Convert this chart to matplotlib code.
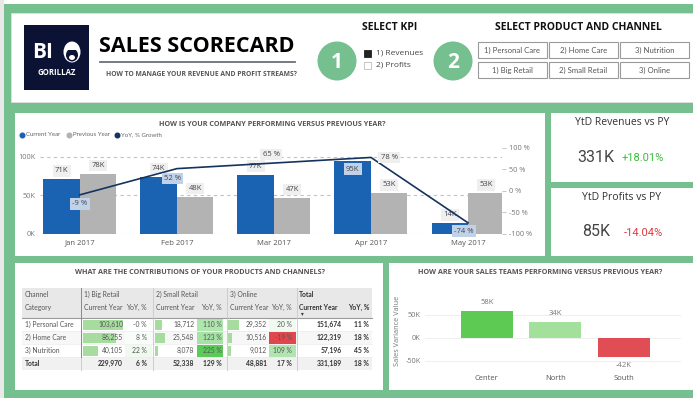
import matplotlib
matplotlib.use('Agg')
import matplotlib.pyplot as plt
from matplotlib.patches import Rectangle, Circle, Ellipse
import numpy as np

plt.rcParams['font.family'] = ['Open Sans', 'DejaVu Sans']

W, H = 693, 398

# monthly revenues (K) and growth (%)
months = ['Jan 2017', 'Feb 2017', 'Mar 2017', 'Apr 2017', 'May 2017']
cur_year = [71, 74, 77, 95, 14]
prev_year = [78, 48, 47, 53, 53]
yoy_growth = [-9, 52, 65, 78, -74]

# cards
kpi_titles = ['YtD Revenues vs PY', 'YtD Profits vs PY']
kpi_values = ['331K', '85K']
kpi_changes = [18.01, -14.04]

# products x channels matrix
categories = ['1) Personal Care', '2) Home Care', '3) Nutrition']
channels = ['1) Big Retail', '2) Small Retail', '3) Online']
cy_values = [[103610, 18712, 29352], [86255, 25548, 10516], [40105, 8078, 9012]]
yoy_values = [[-0.0, 110, 20], [8, 123, -19], [22, 225, 109]]
channel_totals = [229970, 52338, 48881]
channel_total_yoy = [6, 129, 17]
category_totals = [151674, 122319, 57196]
category_total_yoy = [11, 18, 45]
grand_total = 331189
grand_total_yoy = 18

# sales teams variance (K)
teams = ['Center', 'North', 'South']
team_variance = [58, 34, -42]

GREEN = '#76bf8f'
BLUE = '#1a62b2'
GREY_BAR = '#b3b3b3'
NAVY = '#16335f'
SMALL = ['Lato', 'DejaVu Sans']

fig = plt.figure(figsize=(W / 100, H / 100), dpi=100)
fig.patch.set_facecolor(GREEN)

bg = fig.add_axes([0, 0, 1, 1])
bg.set_xlim(0, W)
bg.set_ylim(H, 0)
bg.axis('off')


def px_axes(x, y, w, h):
    a = fig.add_axes([x / W, 1 - (y + h) / H, w / W, h / H])
    a.patch.set_alpha(0)
    return a


def rect(x, y, w, h, **kw):
    bg.add_patch(Rectangle((x, y), w, h, **kw))


def txt(x, y, s, **kw):
    kw.setdefault('va', 'center')
    kw.setdefault('color', '#444444')
    bg.text(x, y, s, **kw)


# frame pieces
rect(0, 0, W, 4, fc='white', ec='none')
rect(0, 0, 3.5, H, fc='#e9e9e9', ec='none')

# panels
rect(11, 13, W - 11, 89, fc='white', ec='#e0e0e0', lw=0.6)
rect(15, 113, 530, 143, fc='white', ec='none')
rect(551, 113, W - 551, 69, fc='white', ec='none')
rect(551, 188, W - 551, 68, fc='white', ec='none')
rect(15, 263, 368, 127, fc='white', ec='none')
rect(389, 263, W - 389, 127, fc='white', ec='none')

# ---- header ----
rect(24, 25, 65, 65, fc='#0b1233', ec='none')
txt(43, 53, 'BI', color='white', fontsize=15, fontweight='bold', ha='center')
bg.add_patch(Ellipse((72, 52), 17, 21, fc='white', ec='none'))
bg.add_patch(Ellipse((72, 55), 12, 13, fc='#0b1233', ec='none'))
rect(66.5, 47, 11, 2.5, fc='white', ec='none')
bg.add_patch(Ellipse((72, 57.5), 6, 5, fc='white', ec='none'))
txt(56.5, 72.5, 'GORILLAZ', color='white', fontsize=5.6, fontweight='bold', ha='center')

txt(197, 47, 'SALES SCORECARD', color='black', fontsize=15.5, fontweight='bold', ha='center')
bg.plot([100, 295], [62, 62], color='#6a6f7a', lw=1.3)
txt(201, 74.5, 'HOW TO MANAGE YOUR REVENUE AND PROFIT STREAMS?', color='#555555',
    fontsize=4.9, fontweight='bold', ha='center')

for cx, num in [(337, '1'), (453, '2')]:
    bg.add_patch(Circle((cx, 61), 19.5, fc=GREEN, ec='none'))
    txt(cx, 62, num, color='white', fontsize=15, fontweight='bold', ha='center')

txt(390, 27, 'SELECT KPI', color='#111111', fontsize=7.5, fontweight='bold', ha='center')
rect(363.5, 49.5, 7, 7, fc='#222222', ec='#222222', lw=0.6)
rect(363.5, 62, 7, 7, fc='white', ec='#bbbbbb', lw=0.6)
txt(376, 53, '1) Revenues', fontsize=6, color='#444444')
txt(376, 65.5, '2) Profits', fontsize=6, color='#444444')

txt(578, 27, 'SELECT PRODUCT AND CHANNEL', color='#111111', fontsize=7.5,
    fontweight='bold', ha='center')
buttons = [categories, channels]
btn_x = [478, 549, 620]
for r, row in enumerate(buttons):
    y0 = 41.5 + r * 20
    for bx, label in zip(btn_x, row):
        rect(bx, y0, 69, 16.5, fc='white', ec='#9a9a9a', lw=0.8)
        txt(bx + 34.5, y0 + 8.5, label, fontsize=5.6, color='#555555', ha='center',
            family=SMALL)

# ---- monthly chart ----
txt(272, 125, 'HOW IS YOUR COMPANY PERFORMING VERSUS PREVIOUS YEAR?', color='#555555',
    fontsize=5.2, fontweight='bold', ha='center')
leg = [(BLUE, 'Current Year', 22), (GREY_BAR, 'Previous Year', 69), (NAVY, 'YoY, % Growth', 117)]
for c, lab, lx in leg:
    bg.scatter([lx], [134.5], s=11, color=c, zorder=3)
    txt(lx + 4, 134.5, lab, fontsize=4.4, color='#666666', family=SMALL)

ax = px_axes(40, 143, 462, 91)
x = np.arange(len(months))
bw = 0.376
ax.bar(x - bw / 2, cur_year, bw, color=BLUE, zorder=2)
ax.bar(x + bw / 2, prev_year, bw, color=GREY_BAR, zorder=2)
ax.set_xlim(-0.41, 4.35)
ax.set_ylim(0, 118)
ax.set_yticks([0, 50, 100])
ax.set_yticklabels(['0K', '50K', '100K'])
ax.set_xticks(x)
ax.set_xticklabels(months)
ax.tick_params(axis='y', length=0, pad=3, labelsize=5.3, labelcolor='#777777')
ax.tick_params(axis='x', length=0, pad=4, labelsize=5.5, labelcolor='#555555')
for yv in [0, 50, 100]:
    ax.axhline(yv, linestyle=(0, (3, 3)), color='#c2c2c2', lw=0.8, zorder=1)
for s in ax.spines.values():
    s.set_visible(False)

ax2 = ax.twinx()
ax2.patch.set_alpha(0)
ax2.set_ylim(-100, 111.6)
ax2.plot(x, yoy_growth, color=NAVY, lw=1.2, zorder=4)
ax2.set_yticks([-100, -50, 0, 50, 100])
ax2.set_yticklabels(['-100 %', '-50 %', '0 %', '50 %', '100 %'])
ax2.tick_params(axis='y', length=3, width=0.6, color='#bbbbbb', pad=2, labelsize=5.3,
                labelcolor='#777777')
for s in ax2.spines.values():
    s.set_visible(False)

box_grey = dict(boxstyle='square,pad=0.3', fc='#efefef', ec='none')
box_blue = dict(boxstyle='square,pad=0.3', fc='#bfd2ea', ec='none')
# current-year labels sit above the bar, or inside it when negative offset
cy_offsets = [6, 6, 6, -6, 6]
for i, v in enumerate(cur_year):
    style = box_blue if cy_offsets[i] < 0 else box_grey
    ax.annotate(f'{v}K', (x[i] - bw / 2, v), xytext=(0, cy_offsets[i]), textcoords='offset points',
                ha='center', va='center', fontsize=5.5, color='#444444', bbox=style, zorder=5)
for i, v in enumerate(prev_year):
    ax.annotate(f'{v}K', (x[i] + bw / 2, v), xytext=(0, 6), textcoords='offset points',
                ha='center', va='center', fontsize=5.5, color='#444444', bbox=box_grey, zorder=5)
# growth labels: offsets in points and box style
yoy_offsets = [(0, -6.5), (-3, -7), (-2, 6), (13, 0), (-3, -6)]
yoy_boxes = [box_blue, box_blue, box_grey, box_grey, box_blue]
for i, v in enumerate(yoy_growth):
    ax2.annotate(f'{v} %', (x[i], v), xytext=yoy_offsets[i], textcoords='offset points',
                 ha='center', va='center', fontsize=5.5, color='#444444', bbox=yoy_boxes[i],
                 zorder=6)

# ---- cards ----
for k in range(2):
    y0 = 113 + k * 75
    txt(622, y0 + 9.5, kpi_titles[k], fontsize=7.5, color='#333333', ha='center')
    txt(596, y0 + 44, kpi_values[k], fontsize=11.5, color='#444444', ha='center',
        family=['Roboto', 'DejaVu Sans'])
    chg = kpi_changes[k]
    col = '#3dba3d' if chg > 0 else '#e0393e'
    sign = '+' if chg > 0 else '-'
    txt(643, y0 + 45, f'{sign}{abs(chg):.2f}%', fontsize=8, color=col, ha='center',
        family=['Roboto', 'DejaVu Sans'])

# ---- matrix ----
txt(200, 272, 'WHAT ARE THE CONTRIBUTIONS OF YOUR PRODUCTS AND CHANNELS?', color='#555555',
    fontsize=5.2, fontweight='bold', ha='center')
tx0, tx1 = 22, 372
rect(tx0, 288, tx1 - tx0, 30, fc='#e8e8e8', ec='none')
row_y = [318, 331, 344, 357, 370]
row_fc = ['white', '#f7f7f7', 'white', '#f1f1f1']
for r in range(4):
    rect(tx0, row_y[r], tx1 - tx0, 13, fc=row_fc[r], ec='none')
for yy in row_y[1:4]:
    bg.plot([tx0, tx1], [yy, yy], color='#ececec', lw=0.5)
bg.plot([tx0, tx1], [318, 318], color='#9a9a9a', lw=0.8)

group_left = [81, 153, 227]
cy_right = [123, 194, 267]
yoy_right = [147, 222, 292]
yoy_cell = [(125, 27), (197, 26), (269, 27)]
bar_left = [83, 155, 228]
bar_scale = 40.0 / max(max(r) for r in cy_values)

for gx in group_left + [297]:
    bg.plot([gx, gx], [288, 370], color='#c8c8c8', lw=0.6)
bg.plot([81, 81], [288, 357], color='#8a8a8a', lw=0.7)

FS = 4.9
hs = dict(fontsize=FS, color='#555555', family=SMALL)
txt(25, 294.5, 'Channel', **hs)
txt(25, 307.5, 'Category', **hs)
for g in range(3):
    txt(group_left[g] + 2.5, 294.5, channels[g], **hs)
    txt(group_left[g] + 2.5, 307.5, 'Current Year', **hs)
    txt(yoy_right[g], 307.5, 'YoY, %', ha='right', **hs)
tb = dict(fontsize=FS, color='#333333', fontweight='bold', family=SMALL)
txt(299, 294.5, 'Total', **tb)
txt(299, 307.5, 'Current Year', **tb)
txt(369, 307.5, 'YoY, %', ha='right', **tb)
txt(302, 313.5, '▾', fontsize=4, color='#333333', ha='center', family=['DejaVu Sans'])


def yoy_color(v):
    if v < 0:
        return '#e0474c'
    t = min(v / 225.0, 1.0)
    lo = np.array([1.0, 1.0, 1.0])
    hi = np.array([0x5c, 0xc9, 0x5a]) / 255.0
    return tuple(lo + (hi - lo) * t)


ds = dict(fontsize=FS, color='#555555', family=SMALL)
for r, cat in enumerate(categories):
    yc = row_y[r] + 6.8
    txt(25, yc, cat, **ds)
    for g in range(3):
        v = cy_values[r][g]
        rect(bar_left[g], row_y[r] + 1.5, v * bar_scale, 10, fc='#a6dd9f', ec='none')
        txt(cy_right[g], yc, f'{v:,}', ha='right', **ds)
        yv = yoy_values[r][g]
        cx, cw = yoy_cell[g]
        rect(cx, row_y[r] + 0.5, cw, 12, fc=yoy_color(yv), ec='none')
        txt(yoy_right[g], yc, f'{yv:.0f} %', ha='right', **ds)
    txt(342, yc, f'{category_totals[r]:,}', ha='right', **tb)
    txt(369, yc, f'{category_total_yoy[r]} %', ha='right', **tb)

yc = row_y[3] + 6.8
txt(25, yc, 'Total', **tb)
for g in range(3):
    txt(cy_right[g], yc, f'{channel_totals[g]:,}', ha='right', **tb)
    txt(yoy_right[g], yc, f'{channel_total_yoy[g]} %', ha='right', **tb)
txt(342, yc, f'{grand_total:,}', ha='right', **tb)
txt(369, yc, f'{grand_total_yoy} %', ha='right', **tb)

# ---- sales teams ----
txt(540, 272, 'HOW ARE YOUR SALES TEAMS PERFORMING VERSUS PREVIOUS YEAR?', color='#555555',
    fontsize=5.2, fontweight='bold', ha='center')
axs = px_axes(425, 290, 256, 82)
tcols = ['#5dcb53', '#a3e09b', '#e04d54']
xt = np.arange(len(teams))
axs.bar(xt, team_variance, 0.76, color=tcols, zorder=2)
axs.set_xlim(-0.9, 2.83)
axs.set_ylim(-74, 104)
axs.set_yticks([-50, 0, 50])
axs.set_yticklabels(['-50K', '0K', '50K'])
axs.set_xticks(xt)
axs.set_xticklabels(teams)
axs.tick_params(axis='y', length=0, pad=3, labelsize=5.3, labelcolor='#777777')
axs.tick_params(axis='x', length=0, pad=2, labelsize=5.5, labelcolor='#555555')
axs.yaxis.grid(True, color='#ececec', lw=0.6, zorder=0)
axs.set_axisbelow(True)
for s in axs.spines.values():
    s.set_visible(False)
axs.set_ylabel('Sales Variance Value', fontsize=5.3, color='#777777', labelpad=3)
for i, v in enumerate(team_variance):
    off = 6 if v > 0 else -6
    axs.annotate(f'{v}K', (xt[i], v), xytext=(0, off), textcoords='offset points',
                 ha='center', va='center', fontsize=5.5, color='#777777')

fig.savefig('out.png', dpi=100, facecolor=fig.get_facecolor())
